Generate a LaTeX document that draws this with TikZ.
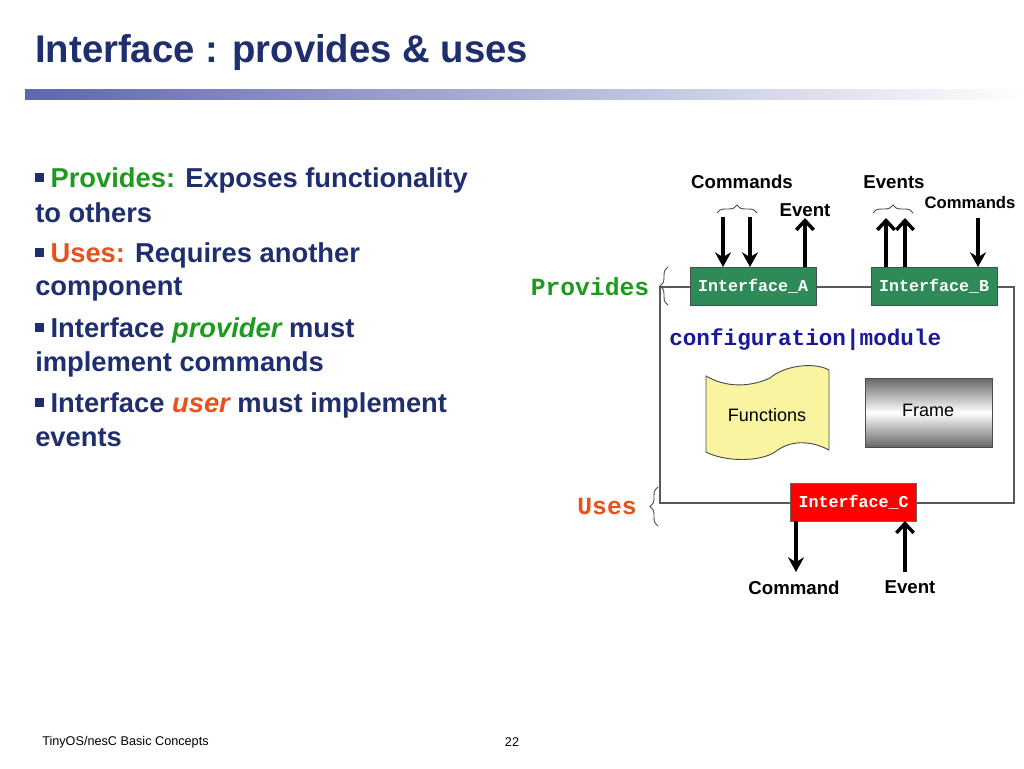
\documentclass[tikz,border=0pt]{standalone}
\usepackage{fontspec}
\setmainfont{Liberation Sans}
\setmonofont{Liberation Mono}
\usetikzlibrary{decorations.pathreplacing,arrows.meta}
\definecolor{tblue}{HTML}{1F2E6E}
\definecolor{pgreen}{HTML}{1E9A1E}
\definecolor{ured}{HTML}{E8501C}
\definecolor{igreen}{HTML}{2E8B57}
\definecolor{cblue}{HTML}{1A1A99}
\definecolor{fyellow}{HTML}{F8F4A0}
\newcommand{\bsq}{\raisebox{4pt}{\rule{6.5pt}{6.5pt}}\hspace{5pt}}
\begin{document}
\begin{tikzpicture}[x=0.75pt,y=-0.75pt,
  bul/.style={anchor=west,inner sep=0,text=tblue,font=\fontsize{20.5}{22}\selectfont\bfseries},
  iface/.style={draw=black!70,text=white,font=\ttfamily\bfseries\fontsize{12.5}{13}\selectfont,minimum width=94.5pt,minimum height=28.5pt,inner sep=0},
  lbl/.style={inner sep=0,font=\bfseries\fontsize{14}{16}\selectfont},
  arr/.style={line width=3pt,-{Stealth[length=11pt,width=12pt]}},
  arro/.style={line width=3pt,-{Straight Barb[length=7pt,width=13pt,line width=2.6pt]}},
  thin/.style={draw=black!65,line width=0.8pt},
  br/.style={decorate,decoration={brace,amplitude=6pt},draw=black!70,line width=0.7pt}]
\useasboundingbox (0,0) rectangle (1024,768);
\fill[white] (0,0) rectangle (1024,768);
\node[anchor=west,inner sep=0,text=tblue,font=\bfseries\fontsize{29}{32}\selectfont,xscale=0.99] (title) at (35,52) {Interface : provides \& uses};
\shade[left color=tblue!80!blue!70,right color=white] (25,89) rectangle (1024,99);
% bullets
\node[bul] (b1) at (35,180) {\bsq\textcolor{pgreen}{Provides:} Exposes functionality};
\node[bul] (b1b) at (35,213) {to others};
\node[bul] (b2) at (35,255) {\bsq\textcolor{ured}{Uses:} Requires another};
\node[bul] (b2b) at (35,289) {component};
\node[bul] (b3) at (35,330) {\bsq Interface \textcolor{pgreen}{\itshape provider} must};
\node[bul] (b3b) at (35,364) {implement commands};
\node[bul] (b4) at (35,405) {\bsq Interface \textcolor{ured}{\itshape user} must implement};
\node[bul] (b4b) at (35,438) {events};
% frame
\draw[thin] (660,287) -- (1014,287) -- (1014,503) -- (660,503) -- cycle;
\node[iface,fill=igreen] (ia) at (753,286) {Interface\_A};
\node[iface,fill=igreen] (ib) at (934,286) {Interface\_B};
\node[iface,fill=red,draw=black!60] (ic) at (853.5,502.5) {Interface\_C};
\node[anchor=west,inner sep=0,text=cblue,font=\ttfamily\bfseries\fontsize{17}{18}\selectfont] (cfg) at (669,340) {configuration|module};
\node[inner sep=0,text=pgreen,font=\ttfamily\bfseries\fontsize{18.5}{20}\selectfont] (prov) at (590,287) {Provides};
\node[inner sep=0,text=ured,font=\ttfamily\bfseries\fontsize{18.5}{20}\selectfont] (uses) at (607,506) {Uses};
\draw[br] (668,305) -- (668,267);
\draw[br] (658,526) -- (658,487);
% functions banner
\draw[fill=fyellow,draw=black!70,line width=0.7pt] (706,376) .. controls (730,390) and (755,385) .. (770,378) .. controls (785,365) and (815,362) .. (829,370)
  -- (829,450) .. controls (810,440) and (790,440) .. (775,452) .. controls (760,462) and (725,462) .. (706,452) -- cycle;
\node[inner sep=0,font=\fontsize{13.5}{14}\selectfont] (fun) at (767,415) {Functions};
\shade[top color=black!60,bottom color=black!60,middle color=white,draw=black!70] (865,378) rectangle (992,447);
\node[inner sep=0,font=\fontsize{13.5}{14}\selectfont] (fr) at (928,410) {Frame};
% top arrows
\coordinate (c1) at (723,217); \coordinate (c2) at (750,217);
\coordinate (e1) at (805,218); \coordinate (e2) at (886,218); \coordinate (e3) at (905,218);
\coordinate (c3) at (978,218);
\draw[arr] (c1) -- (723,267);
\draw[arr] (c2) -- (750,267);
\draw[arro] (805,267) -- (e1);
\draw[arro] (886,267) -- (e2);
\draw[arro] (905,267) -- (e3);
\draw[arr] (c3) -- (978,267);
\draw[br] (717,213) -- (757,213);
\draw[br] (873,213) -- (913,213);
\node[lbl] (lc) at (742,182) {Commands};
\node[lbl] (le) at (805,210) {Event};
\node[lbl] (les) at (894,182) {Events};
\node[lbl,font=\bfseries\fontsize{12.5}{14}\selectfont] (lc2) at (970,203) {Commands};
% bottom arrows
\coordinate (d1) at (796,572); \coordinate (d2) at (905,572);
\draw[arr] (796,521) -- (d1);
\draw[arro] (d2) -- (905,521);
\node[lbl] (lcm) at (794,588) {Command};
\node[lbl] (lev) at (910,587) {Event};
% footer
\node[anchor=west,inner sep=0,font=\fontsize{9.5}{10}\selectfont] (ft) at (42,742) {TinyOS/nesC Basic Concepts};
\node[inner sep=0,font=\fontsize{9.5}{10}\selectfont] (pg) at (512,742) {22};
\end{tikzpicture}
\end{document}
